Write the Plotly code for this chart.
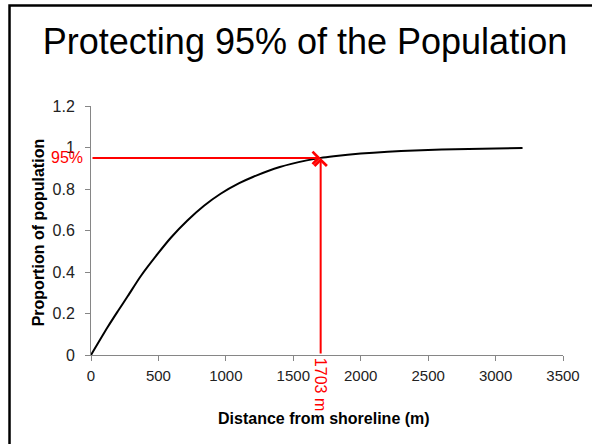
import plotly.graph_objects as go

# Data
distance_m = [0, 125, 200, 273, 371, 494, 592, 715, 838, 961, 1099, 1200, 1400,
              1600, 1703, 1800, 2000, 2200, 2400, 2600, 2800, 3000, 3200]
proportion = [0.0, 0.136, 0.212, 0.284, 0.382, 0.487, 0.565, 0.648, 0.719, 0.777, 0.828,
              0.858, 0.906, 0.938, 0.95, 0.958, 0.971, 0.980, 0.986, 0.990, 0.993,
              0.995, 0.997]
threshold = 0.95
threshold_label = "95%"
cut_distance = 1703
cut_label = "1703 m"
x_ticks = [0, 500, 1000, 1500, 2000, 2500, 3000, 3500]
y_ticks = [0, 0.2, 0.4, 0.6, 0.8, 1.0, 1.2]
y_tick_text = ["0", "0.2", "0.4", "0.6", "0.8", "1", "1.2"]

FONT = "Liberation Sans, Arial, sans-serif"

fig = go.Figure()
fig.add_trace(go.Scatter(
    x=distance_m, y=proportion, mode="lines",
    line=dict(color="black", width=2, shape="spline", smoothing=0.8),
    hoverinfo="x+y", showlegend=False,
))

W, H = 592, 444
ml, mr, mt, mb = 91, 26, 106, 89
pw, ph = W - ml - mr, H - mt - mb

def px_to_paper_x(px):
    return (px - ml) / pw

def px_to_paper_y(py):
    return (H - mb - py) / ph

fig.update_layout(
    width=W, height=H,
    margin=dict(l=ml, r=mr, t=mt, b=mb),
    paper_bgcolor="white", plot_bgcolor="white",
    font=dict(family=FONT, color="#222222", size=15),
    title=dict(text="Protecting 95% of the Population",
               x=305 / W, xanchor="center", xref="container",
               y=1 - 41 / H, yanchor="middle", yref="container",
               font=dict(family=FONT, size=36, color="black")),
    xaxis=dict(range=[0, 3500], tickvals=x_ticks, showgrid=False, zeroline=False,
               showline=True, linecolor="#868686", linewidth=1,
               ticks="outside", ticklen=5, tickcolor="#868686",
               ticklabelstandoff=2,
               tickfont=dict(size=15, color="#222222")),
    yaxis=dict(range=[0, 1.2], tickvals=y_ticks, ticktext=y_tick_text,
               showgrid=False, zeroline=False,
               showline=True, linecolor="#868686", linewidth=1,
               ticks="outside", ticklen=5, tickcolor="#868686",
               ticklabelstandoff=7,
               tickfont=dict(size=16, color="#222222")),
    showlegend=False,
)

# Axis titles
fig.add_annotation(text="<b>Distance from shoreline (m)</b>", xref="paper", yref="paper",
                   x=px_to_paper_x(325), y=px_to_paper_y(418), showarrow=False,
                   xanchor="center", yanchor="middle",
                   font=dict(family=FONT, size=16, color="black"))
fig.add_annotation(text="<b>Proportion of population</b>", xref="paper", yref="paper",
                   x=px_to_paper_x(38), y=px_to_paper_y(232), showarrow=False, textangle=-90,
                   xanchor="center", yanchor="middle",
                   font=dict(family=FONT, size=16, color="black"))

# Red arrows
fig.add_annotation(x=cut_distance, y=threshold, ax=0, ay=threshold,
                   xref="x", yref="y", axref="x", ayref="y", text="",
                   showarrow=True, arrowhead=4, arrowsize=1.2, arrowwidth=2,
                   arrowcolor="red", standoff=0)
fig.add_annotation(x=cut_distance, y=threshold, ax=cut_distance, ay=0,
                   xref="x", yref="y", axref="x", ayref="y", text="",
                   showarrow=True, arrowhead=4, arrowsize=1.2, arrowwidth=2,
                   arrowcolor="red", standoff=0)

# Red labels
fig.add_annotation(text=threshold_label, x=0, y=threshold, xref="paper", yref="y",
                   xanchor="right", yanchor="middle", xshift=-6, showarrow=False,
                   font=dict(family=FONT, size=16, color="red"))
fig.add_annotation(text=cut_label, x=cut_distance, y=0, xref="x", yref="paper",
                   xanchor="center", yanchor="top", yshift=-1, textangle=90,
                   showarrow=False, font=dict(family=FONT, size=16, color="red"))

# Slide frame (left and top edges)
fig.add_shape(type="path", xref="paper", yref="paper",
              path=f"M {px_to_paper_x(9)},{px_to_paper_y(450)} L {px_to_paper_x(9)},{px_to_paper_y(5.5)} L {px_to_paper_x(600)},{px_to_paper_y(5.5)}",
              line=dict(color="black", width=2.5), layer="above")

fig.write_html("out.html",
               config={"displayModeBar": False},
               post_script="document.body.style.margin='0';document.body.style.overflow='hidden';document.documentElement.style.overflow='hidden';")
